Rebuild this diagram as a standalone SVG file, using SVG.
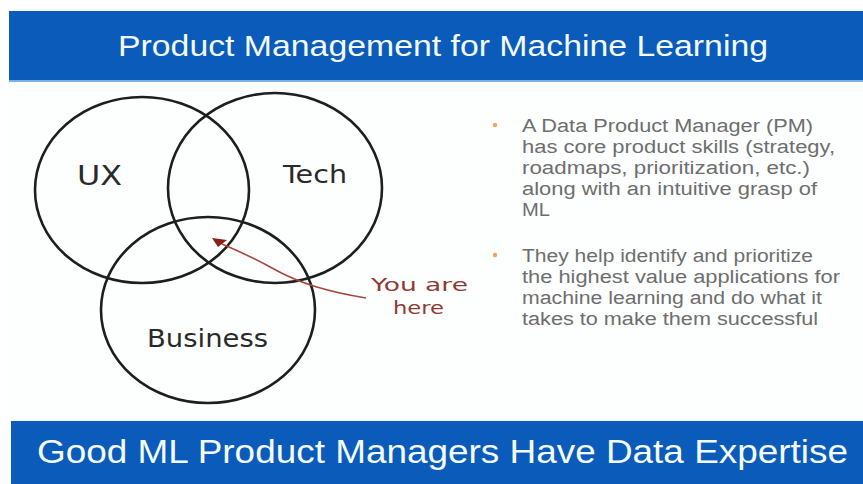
<svg xmlns="http://www.w3.org/2000/svg" width="863" height="484" viewBox="0 0 863 484">
  <style>
    .banner { fill: #0b5bbb; }
    .title { font-family: "Liberation Sans", Arial, sans-serif; fill: #f4fbff; }
    .ring { fill: none; stroke: #1e1e1e; stroke-width: 2.6; }
    .hand { font-family: "DejaVu Sans", sans-serif; fill: #2a2a2a; }
    .note { font-family: "DejaVu Sans", sans-serif; fill: #8e3b33; font-size: 18px; }
    .body { font-family: "Liberation Sans", Arial, sans-serif; font-size: 18px; fill: #6e6e6e; }
    .dot { fill: #f2a45a; }
    .pointer { fill: none; stroke: #a8463c; stroke-width: 1.6; }
  </style>

  <!-- page -->
  <rect x="0" y="0" width="863" height="484" fill="#ffffff"/>
  <rect x="9" y="82" width="854" height="339" fill="#fdfefe"/>

  <!-- header band -->
  <g id="header">
    <rect class="banner" x="9" y="11" width="854" height="69"/>
    <rect x="9" y="80" width="854" height="2" fill="#78b0e6"/>
    <text class="title" x="118" y="56" font-size="29" textLength="650" lengthAdjust="spacingAndGlyphs">Product Management for Machine Learning</text>
  </g>

  <!-- Venn diagram -->
  <g id="ux">
    <ellipse class="ring" cx="142" cy="190" rx="107" ry="93"/>
    <text class="hand" x="77" y="185" font-size="27" textLength="45" lengthAdjust="spacingAndGlyphs">UX</text>
  </g>
  <g id="tech">
    <ellipse class="ring" cx="275" cy="188" rx="107" ry="95"/>
    <text class="hand" x="283" y="183" font-size="25" textLength="64" lengthAdjust="spacingAndGlyphs">Tech</text>
  </g>
  <g id="business">
    <ellipse class="ring" cx="208" cy="310" rx="107" ry="93"/>
    <text class="hand" x="147" y="347" font-size="24" textLength="121" lengthAdjust="spacingAndGlyphs">Business</text>
  </g>

  <g id="you-are-here">
    <text class="note" x="371" y="291" textLength="97" lengthAdjust="spacingAndGlyphs">You are</text>
    <text class="note" x="393" y="314" textLength="51" lengthAdjust="spacingAndGlyphs">here</text>
  </g>

  <!-- pointer from the note into the centre of the overlap -->
  <g id="connectors">
    <path class="pointer" d="M366 298 C 330 292, 300 284, 272 268 C 252 257, 236 250, 222 244"/>
    <polygon points="212,238 227,240 218,247" fill="#8c1f1a"/>
  </g>

  <!-- bullet points -->
  <g id="bullets">
    <circle class="dot" cx="495" cy="125" r="2.2"/>
    <text class="body" x="522" y="132" textLength="291" lengthAdjust="spacingAndGlyphs">A Data Product Manager (PM)</text>
    <text class="body" x="522" y="153" textLength="313" lengthAdjust="spacingAndGlyphs">has core product skills (strategy,</text>
    <text class="body" x="522" y="174" textLength="288" lengthAdjust="spacingAndGlyphs">roadmaps, prioritization, etc.)</text>
    <text class="body" x="522" y="195" textLength="295" lengthAdjust="spacingAndGlyphs">along with an intuitive grasp of</text>
    <text class="body" x="522" y="216" textLength="28" lengthAdjust="spacingAndGlyphs">ML</text>

    <circle class="dot" cx="495" cy="255" r="2.2"/>
    <text class="body" x="522" y="262" textLength="291" lengthAdjust="spacingAndGlyphs">They help identify and prioritize</text>
    <text class="body" x="522" y="283" textLength="318" lengthAdjust="spacingAndGlyphs">the highest value applications for</text>
    <text class="body" x="522" y="304" textLength="300" lengthAdjust="spacingAndGlyphs">machine learning and do what it</text>
    <text class="body" x="522" y="325" textLength="296" lengthAdjust="spacingAndGlyphs">takes to make them successful</text>
  </g>

  <!-- footer band -->
  <g id="footer">
    <rect class="banner" x="11" y="421" width="852" height="63"/>
    <text class="title" x="37" y="463" font-size="34" textLength="811" lengthAdjust="spacingAndGlyphs">Good ML Product Managers Have Data Expertise</text>
  </g>
</svg>
